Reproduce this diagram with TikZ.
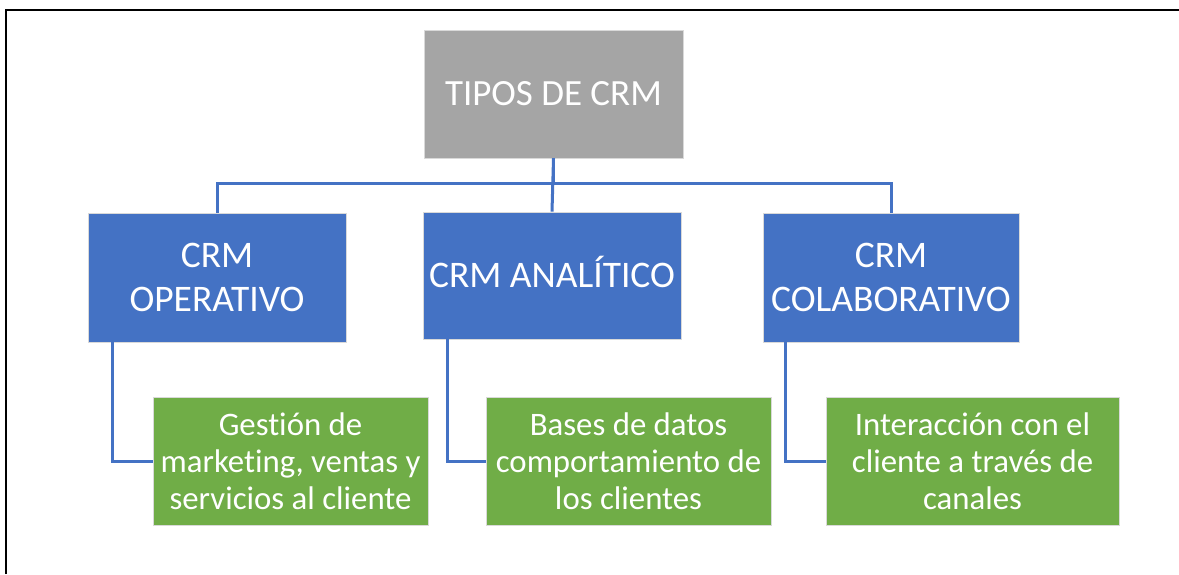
\documentclass[tikz,border=0pt]{standalone}
\usepackage{fontspec}
\setmainfont{Carlito}[RawFeature=-liga]
\definecolor{cblue}{HTML}{4472C4}
\definecolor{cgreen}{HTML}{70AD47}
\definecolor{cgray}{HTML}{A5A5A5}
\begin{document}
\begin{tikzpicture}[x=1pt,y=-1pt,
  box/.style={draw=white!85!black, line width=0.6pt, inner sep=0pt, align=center, text=white},
  topbox/.style={box, fill=cgray, minimum width=259pt, minimum height=128pt, font=\fontsize{37}{45}\selectfont},
  bluebox/.style={box, fill=cblue, minimum width=258pt, font=\fontsize{37.5}{44}\selectfont},
  greenbox/.style={box, fill=cgreen, minimum height=128pt, font=\fontsize{32.8}{37}\selectfont},
  conn/.style={draw=cblue, line width=3pt},
  frame/.style={draw=black, line width=2pt}]
\useasboundingbox (0,0) rectangle (1179,574);
\draw[frame] (6,574) -- (6,10) -- (1179,10);

\node[topbox] (top) at (553.5,94) {TIPOS DE CRM};

\node[bluebox, minimum height=129pt] (b1) at (217,277.5) {CRM\\OPERATIVO};
\node[bluebox, minimum height=127pt] (b2) at (552,275.5) {\raisebox{4pt}[\height][\depth]{CRM ANALÍTICO}};
\node[bluebox, minimum height=129pt, minimum width=256pt] (b3) at (891,277.5) {CRM\\COLABORATIVO};

\node[greenbox, minimum width=275pt] (g1) at (290.5,461) {Gestión de\\marketing, ventas y\\servicios al cliente};
\node[greenbox, minimum width=285pt] (g2) at (628.5,461.5) {Bases de datos\\comportamiento de\\los clientes};
\node[greenbox, minimum width=293pt] (g3) at (972.5,461) {Interacción con el\\cliente a través de\\canales};

\coordinate (bus) at (553.5,183);
\draw[conn] (top.south) -- (top.south |- bus) -| (b1.north);
\draw[conn] (top.south) -- (top.south |- bus) -| (b3.north);
\draw[conn] (top.south) -- (b2.north);

\draw[conn] ([xshift=25pt]b1.south west) |- (g1.west);
\draw[conn] ([xshift=25pt]b2.south west) |- (g2.west);
\draw[conn] ([xshift=23pt]b3.south west) |- (g3.west);
\end{tikzpicture}
\end{document}
